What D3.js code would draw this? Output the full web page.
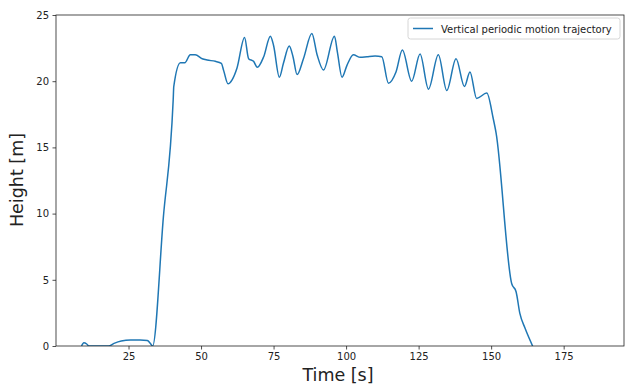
<!DOCTYPE html>
<html>
<head>
<meta charset="utf-8">
<script src="https://cdn.jsdelivr.net/npm/d3@7"></script>
<style>
body{margin:0;background:#fff;}
text{font-family:"DejaVu Sans",sans-serif;}
</style>
</head>
<body>
<svg id="chart" width="630" height="385"></svg>
<script>
// trajectory samples
var timeS = [8.8, 9.6, 10.6, 11.3, 14, 18.1, 20, 22.5, 25.7, 29, 31.5, 32.5, 33.3,
    37.0, 40.4, 40.6, 42.9, 44.4, 46.3, 48.0, 50.4, 52.1, 54.9, 57.0, 57.8, 59.3, 60.7,
    62.4, 65.0, 66.4, 68.1, 69.4, 71.6, 73.9, 75.0, 77.0, 78.4, 80.4, 81.7, 83.1, 85.3,
    88.2, 90.0, 92.2, 96.0, 97.0, 98.6, 100.3, 102.5, 104.9, 107.2, 110.0, 112.3, 114.6,
    117.2, 119.4, 122.6, 125.5, 128.4, 131.8, 134.7, 137.9, 140.8, 142.7, 145.0, 148.5,
    150.7, 151.7, 157.1, 158.6, 159.9, 161.7, 164.3];
var heightM = [0, 0.25, 0.15, 0, 0, 0, 0.2, 0.38, 0.45, 0.45, 0.42, 0.2, 0,
    9.7, 18.6, 19.6, 21.4, 21.4, 22.0, 22.0, 21.7, 21.6, 21.5, 21.35, 20.8, 19.8, 20.1,
    21.0, 23.3, 21.7, 21.5, 21.05, 21.85, 23.4, 22.7, 20.3, 21.35, 22.66, 21.85, 20.5, 21.7,
    23.6, 22.0, 20.85, 23.4, 22.2, 20.3, 21.2, 22.0, 21.8, 21.85, 21.9, 21.85, 19.85,
    20.7, 22.35, 20.0, 22.05, 19.4, 22.0, 19.3, 21.7, 19.6, 20.7, 18.7, 19.1,
    17.2, 16.1, 4.7, 4.1, 2.46, 1.34, 0];
var xTicks = [25, 50, 75, 100, 125, 150, 175];
var yTicks = [0, 5, 10, 15, 20, 25];
var seriesName = "Vertical periodic motion trajectory";

var data = timeS.map(function(t, i){ return {t: t, h: heightM[i]}; });

var margin = {left: 56, right: 6, top: 15, bottom: 39};
var width = 630 - margin.left - margin.right;
var height = 385 - margin.top - margin.bottom;

var svg = d3.select("#chart");
var g = svg.append("g").attr("transform", "translate(" + margin.left + "," + margin.top + ")");

var x = d3.scaleLinear().domain([0, 195.8]).range([0, width]);
var y = d3.scaleLinear().domain([0, 25]).range([height, 0]);

g.append("defs").append("clipPath").attr("id", "clip")
    .append("rect").attr("width", width).attr("height", height);

var line = d3.line()
    .x(function(d){ return x(d.t); })
    .y(function(d){ return y(d.h); })
    .curve(d3.curveMonotoneX);

g.append("path")
    .datum(data)
    .attr("clip-path", "url(#clip)")
    .attr("fill", "none")
    .attr("stroke", "#1f77b4")
    .attr("stroke-width", 1.5)
    .attr("stroke-linejoin", "round")
    .attr("d", line);

// axes
var xAxis = g.append("g").attr("transform", "translate(0," + height + ")")
    .call(d3.axisBottom(x).tickValues(xTicks).tickSize(3.5).tickPadding(3.5));
var yAxis = g.append("g")
    .call(d3.axisLeft(y).tickValues(yTicks).tickSize(3.5).tickPadding(3.5));
[xAxis, yAxis].forEach(function(a){
    a.select(".domain").remove();
    a.selectAll("line").attr("stroke", "#222").attr("stroke-width", 0.8);
    a.selectAll("text").attr("fill", "#222").style("font-size", "10px").style("font-family", "DejaVu Sans");
});

// frame
g.append("rect").attr("width", width).attr("height", height)
    .attr("fill", "none").attr("stroke", "#222").attr("stroke-width", 0.8);

// axis labels
svg.append("text").attr("x", 338).attr("y", 381)
    .attr("text-anchor", "middle").style("font-size", "17.5px").attr("fill", "#222")
    .text("Time [s]");
svg.append("text").attr("transform", "translate(23,180) rotate(-90)")
    .attr("text-anchor", "middle").style("font-size", "17.5px").attr("fill", "#222")
    .text("Height [m]");

// legend
var lg = g.append("g").attr("transform", "translate(" + (width - 216) + ",3)");
lg.append("rect").attr("width", 212).attr("height", 21).attr("rx", 2.5)
    .attr("fill", "#fff").attr("fill-opacity", 0.8).attr("stroke", "#ccc").attr("stroke-width", 0.8);
lg.append("line").attr("x1", 5).attr("x2", 25).attr("y1", 10.5).attr("y2", 10.5)
    .attr("stroke", "#1f77b4").attr("stroke-width", 1.5);
lg.append("text").attr("x", 33).attr("y", 14.5).style("font-size", "10px").attr("fill", "#222")
    .text(seriesName);
</script>
</body>
</html>
